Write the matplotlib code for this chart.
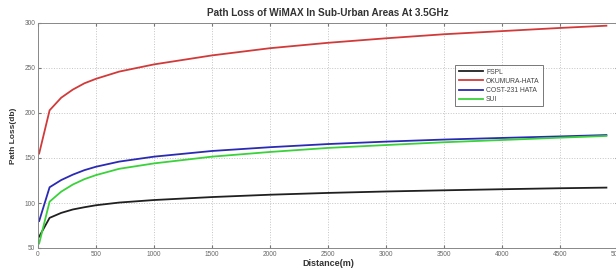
import matplotlib.pyplot as plt
import numpy as np

# %% Dados
distance = [10, 100, 200, 300, 400, 500, 700, 1000, 1500, 2000, 2500, 3000, 3500, 4000, 4500, 4900]
fspl = [62.6, 83.5, 89.0, 92.8, 95.3, 97.5, 100.5, 103.3, 106.6, 109.2, 111.2, 112.8, 114.1, 115.3, 116.4, 117.1]
okumura = [155, 203, 217, 226, 233, 238, 246, 254, 264, 272, 278, 283, 287.5, 291, 294.5, 297]
cost231 = [80, 117.5, 125.5, 131.5, 136.5, 140.3, 146, 151.5, 157.8, 162, 165.5, 168.2, 170.5, 172.3, 174, 175.5]
sui = [55, 101.5, 112.6, 120.5, 126.5, 131, 138, 144, 151.5, 156.7, 161.2, 164.4, 167.5, 170, 172.6, 174.5]

series = [
    ('FSPL', fspl, '#202020'),
    ('OKUMURA-HATA', okumura, '#d23a3a'),
    ('COST-231 HATA', cost231, '#2a2ab4'),
    ('SUI', sui, '#3ad23a'),
]

plt.rcParams['font.family'] = ['Liberation Sans', 'DejaVu Sans']

# %% Gráfico
fig = plt.figure(figsize=(6.16, 2.69), dpi=100)
ax = fig.add_axes([38 / 616, 1 - 248 / 269, 580 / 616, 225 / 269])

for nome, valores, cor in series:
    ax.plot(distance, valores, color=cor, lw=1.3, label=nome)

ax.set_xlim(0, 5000)
ax.set_ylim(50, 300)
ax.set_xticks(np.arange(0, 5001, 500))
ax.set_yticks(np.arange(50, 301, 50))
ax.tick_params(direction='in', labelsize=4.7, labelcolor='#666666', length=2,
               top=True, right=True, color='#777777', pad=2)
ax.grid(True, linestyle=':', color='#c4c4c4', lw=0.7)
for s in ax.spines.values():
    s.set_color('#888888')
    s.set_linewidth(0.7)

ax.set_title('Path Loss of WiMAX In Sub-Urban Areas At 3.5GHz', fontsize=7.2,
             fontweight='bold', color='#333333', pad=5)
ax.set_xlabel('Distance(m)', fontsize=6.5, fontweight='bold', color='#333333', labelpad=1)
ax.set_ylabel('Path Loss(db)', fontsize=6, fontweight='bold', color='#333333', labelpad=5)

leg = ax.legend(loc='upper left', bbox_to_anchor=(414 / 580, 1 - 39 / 225), fontsize=4.9,
                handlelength=3.5, frameon=True, fancybox=False, borderpad=0.5,
                labelspacing=0.3, handletextpad=0.5)
leg.get_frame().set_edgecolor('#555555')
leg.get_frame().set_linewidth(0.7)
for t in leg.get_texts():
    t.set_color('#444444')

plt.savefig('out.png', dpi=100)
